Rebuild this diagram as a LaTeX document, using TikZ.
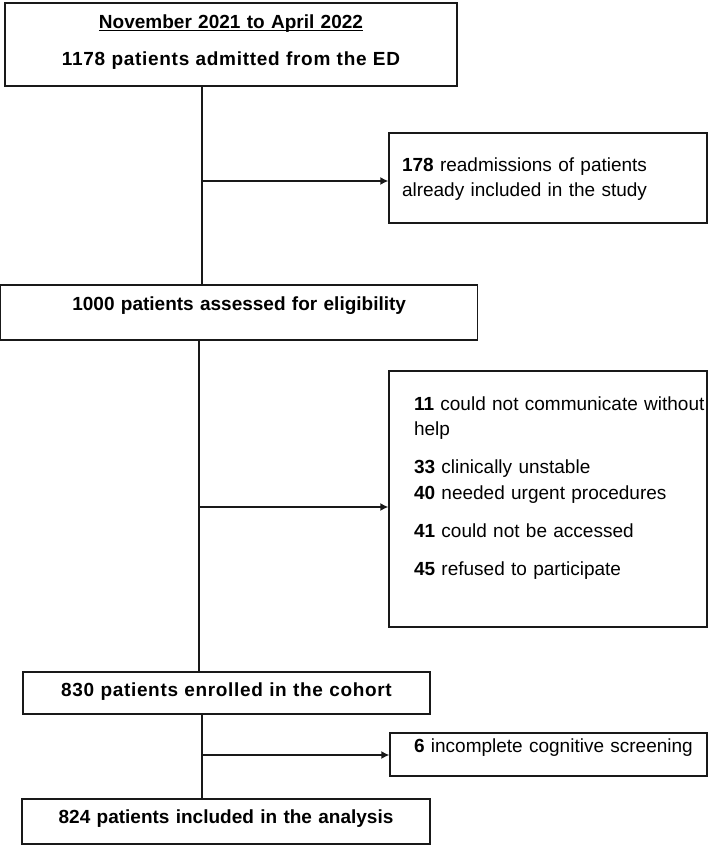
\documentclass[tikz,border=0pt]{standalone}
\usepackage{fontspec}
\setmainfont{Liberation Sans}
\usepackage{tikz}
\usetikzlibrary{shapes,arrows,arrows.meta,positioning}

\newcommand{\undertext}[1]{\setbox0\hbox{#1}\rlap{\rule[-3pt]{\wd0}{1.3pt}}\box0}

\begin{document}
\begin{tikzpicture}[
            node distance=2cm,
            block/.style={rectangle, draw=black!90, line width=1.4pt, align=center, inner xsep=2pt, inner ysep=0pt, text height=14pt, font=\fontsize{19}{25.5}\selectfont\bfseries},
            side/.style={rectangle, draw=black!90, line width=1.4pt, align=left, inner xsep=2pt, inner ysep=0pt, text width=314pt, minimum width=318pt, text height=14pt, font=\fontsize{19}{25.5}\selectfont},
            line/.style={draw, -{Latex[length=8pt,width=8pt]}, line width=1.4pt, black!90},
            trunk/.style={draw, line width=1.4pt, black!90}
        ]
        \useasboundingbox (0,0) rectangle (709pt,-846pt);

        % Main Nodes
        \node [block, text width=448pt, minimum height=83pt, text depth=47pt] (period) at (231pt,-44.5pt) {\undertext{November 2021 to April 2022}\\[11.5pt]{\addfontfeature{LetterSpace=3.7}1178 patients admitted from the ED}};
        \node [block, below of=period, node distance=268pt, xshift=8.2pt, text width=473pt, minimum height=55pt, text depth=19pt] (assess) {1000 patients assessed for eligibility};
        \node [block, below of=assess, node distance=380.5pt, xshift=-12.7pt, text width=403pt, minimum height=42pt, text depth=8pt] (enrol) {\addfontfeature{LetterSpace=3.5}830 patients enrolled in the cohort};
        \node [block, below of=enrol, node distance=128.5pt, xshift=-0.5pt, text width=404pt, minimum height=45pt, text depth=11pt] (analysis) {824 patients included in the analysis};

        % Exclusion Nodes
        \node [side, minimum height=90pt, text depth=28pt] (readmit) at (548pt,-178pt) {\leftskip=11pt\textbf{178} readmissions of patients\\already included in the study\par};
        \node [side, below of=readmit, node distance=321pt, minimum height=256pt, text depth=192pt] (excluded) {\leftskip=23pt\textbf{11} could not communicate without\\help\\[12.5pt]\textbf{33} clinically unstable\\\textbf{40} needed urgent procedures\\[12.5pt]\textbf{41} could not be accessed\\[12.5pt]\textbf{45} refused to participate\par};
        \node [side, below of=excluded, node distance=255.5pt, xshift=0.5pt, text width=313pt, minimum width=317pt, minimum height=43pt, text depth=19pt] (incompl) {\leftskip=22pt\textbf{6} incomplete cognitive screening\par};

        % Split Points
        \coordinate (split1) at (202pt,-181pt);
        \coordinate (split2) at (199pt,-507pt);
        \coordinate (split3) at (202pt,-755pt);

        % Edges
        \path [trunk] (period.south -| split1) -- (assess.north -| split1);
        \path [line] (split1) -- (split1 -| readmit.west);
        \path [trunk] (assess.south -| split2) -- (enrol.north -| split2);
        \path [line] (split2) -- (split2 -| excluded.west);
        \path [trunk] (enrol.south -| split3) -- (analysis.north -| split3);
        \path [line] (split3) -- (split3 -| incompl.west);

    \end{tikzpicture}
\end{document}
